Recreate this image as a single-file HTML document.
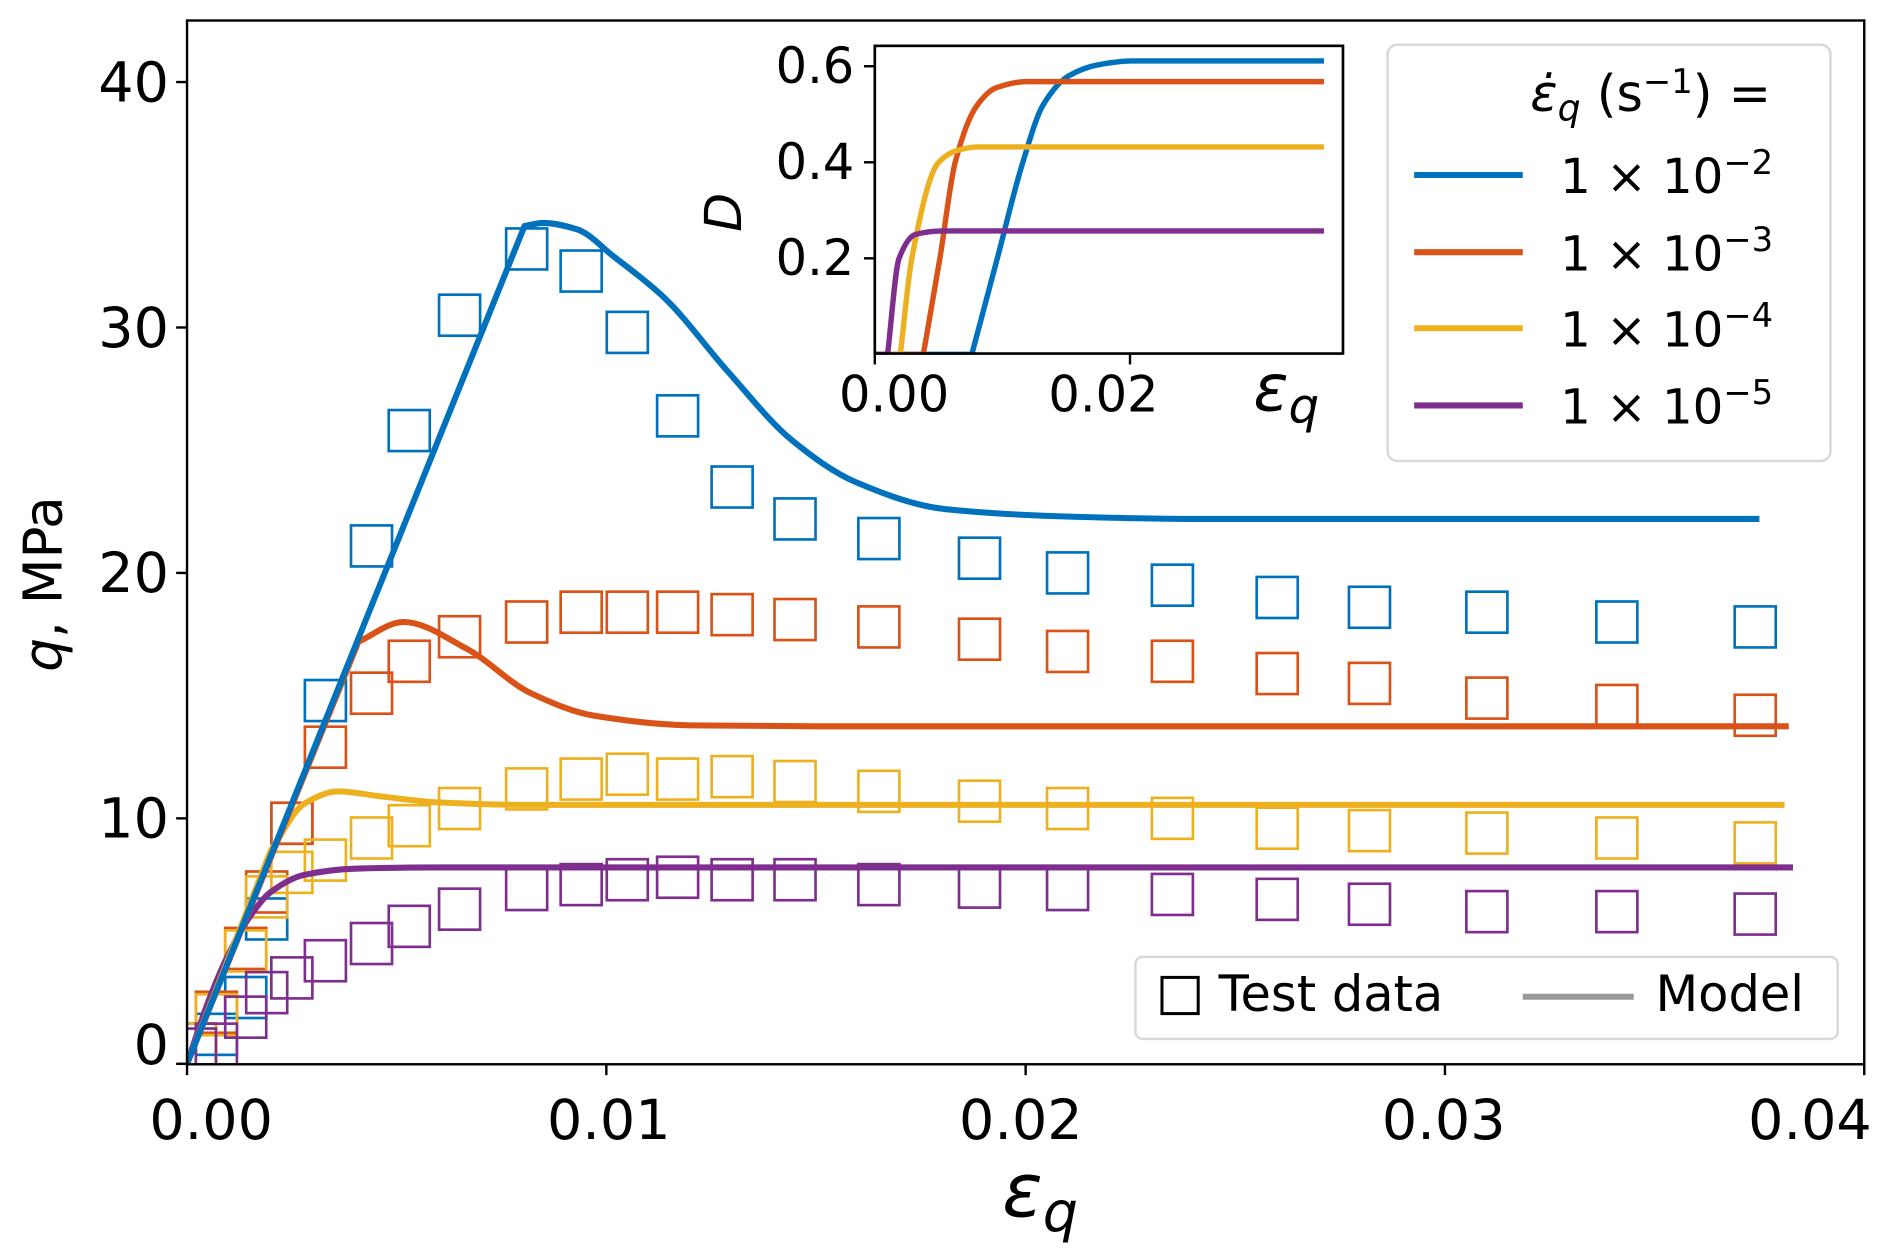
<!DOCTYPE html>
<html><head><meta charset="utf-8"><style>
html,body{margin:0;padding:0;background:#fff;}
svg{display:block;font-family:"DejaVu Sans","Liberation Sans",sans-serif;}
</style></head><body>
<svg id="chart" width="1892" height="1253" viewBox="0 0 1568 1038.4" preserveAspectRatio="none" xmlns="http://www.w3.org/2000/svg">
<defs>
<clipPath id="mainclip"><rect x="155" y="17" width="1390" height="865"/></clipPath>
<clipPath id="insetclip"><rect x="725" y="38" width="388" height="255"/></clipPath>
</defs>
<rect x="0" y="0" width="1568" height="1038.4" fill="#fff"/>
<g id="mainmarks" clip-path="url(#mainclip)"></g>
<rect x="155" y="17" width="1390" height="865" fill="none" stroke="#000" stroke-width="2"/>
<g id="mainaxes"></g>
<text x="862" y="1008" font-size="62" font-style="italic" text-anchor="middle">ε<tspan font-size="46" dy="12">q</tspan></text>
<text transform="translate(51,484) rotate(-90)" font-size="44" text-anchor="middle"><tspan font-style="italic">q</tspan>, MPa</text>

<rect x="725" y="38" width="388" height="255" fill="#fff"/>
<g id="insetmarks" clip-path="url(#insetclip)"></g>
<rect x="725" y="38" width="388" height="255" fill="none" stroke="#000" stroke-width="2.2"/>
<g id="insetaxes"></g>
<text transform="translate(614,176) rotate(-90)" font-size="42" font-style="italic" text-anchor="middle">D</text>
<text x="1066" y="340" font-size="54" font-style="italic" text-anchor="middle">ε<tspan font-size="40" dy="10">q</tspan></text>

<g>
<rect x="1150" y="37" width="367" height="345" rx="8" fill="#fff" fill-opacity="0.85" stroke="#d8d8d8" stroke-width="2"/>
<text x="1368" y="92" font-size="42" text-anchor="middle"><tspan font-style="italic">ε̇</tspan><tspan font-style="italic" font-size="30" dy="8">q</tspan><tspan dy="-8"> (s</tspan><tspan font-size="28" dy="-15">−1</tspan><tspan dy="15">) =</tspan></text>
<g id="legendentries"></g>
</g>

<g>
<rect x="941" y="793" width="582" height="68" rx="6" fill="#fff" fill-opacity="0.85" stroke="#d8d8d8" stroke-width="2"/>
<rect x="963" y="810" width="30" height="30" fill="none" stroke="#000" stroke-width="2.5"/>
<text x="1010" y="838" font-size="41">Test data</text>
<line x1="1262" y1="826" x2="1354" y2="826" stroke="#999" stroke-width="5"/>
<text x="1372" y="838" font-size="41">Model</text>
</g>
</svg>
<script>
const colors = ['#0072BD','#D95319','#EDB120','#7E2F8E'];
const seriesNames = ['rate-1e-2','rate-1e-3','rate-1e-4','rate-1e-5'];
const legendExponents = ['−2','−3','−4','−5'];
// test data
const epsTest = [0.0002,0.0007,0.0014,0.0019,0.0025,0.0033,0.0044,0.0053,0.0065,0.0081,0.0094,0.0105,0.0117,0.013,0.0145,0.0165,0.0189,0.021,0.0235,0.026,0.0282,0.031,0.0341,0.0374];
const qTestBlue = [0.8,1.2,2.7,5.9,9.8,14.8,21.1,25.8,30.5,33.2,32.3,29.8,26.4,23.5,22.2,21.4,20.6,20.0,19.5,19.0,18.6,18.4,18.0,17.8];
const qTestOrange = [0.8,2.1,4.7,7.0,9.8,12.9,15.1,16.4,17.4,18.0,18.4,18.4,18.4,18.3,18.1,17.8,17.3,16.8,16.4,15.9,15.5,14.9,14.6,14.2];
const qTestYellow = [0.8,2.0,4.6,6.8,7.8,8.3,9.2,9.7,10.4,11.2,11.6,11.8,11.6,11.7,11.5,11.1,10.7,10.4,10.0,9.6,9.5,9.4,9.2,9.0];
const qTestPurple = [0.6,0.8,1.9,2.9,3.5,4.2,4.9,5.6,6.3,7.1,7.3,7.5,7.6,7.5,7.5,7.3,7.2,7.1,6.9,6.7,6.5,6.2,6.2,6.1];
// model curves
const epsModelBlue = [0,0.00805,0.0085,0.0093,0.01017,0.01139,0.0129,0.01443,0.01595,0.01808,0.02113,0.0241,0.0375];
const qModelBlue = [0,34.14,34.26,34.0,32.9,31.2,28.2,25.4,23.7,22.6,22.29,22.2,22.2];
const epsModelOrange = [0,0.00409,0.00516,0.00668,0.0082,0.00972,0.012,0.015,0.0382];
const qModelOrange = [0,17.2,18.0,16.9,15.1,14.18,13.79,13.75,13.75];
const epsModelYellow = [0,0.002,0.0028,0.0036,0.0046,0.006,0.008,0.0381];
const qModelYellow = [0,8.7,10.6,11.1,10.9,10.65,10.55,10.55];
const epsModelPurple = [0,0.0005,0.001,0.0015,0.002,0.0028,0.004,0.006,0.0383];
const qModelPurple = [0,2.5,4.5,6.0,7.0,7.7,7.95,8.0,8.0];
// index of the corner where the straight elastic segment ends
const modelKinks = [1,1,1,0];
// inset damage curves
const epsDBlue = [0,0.0076,0.0096,0.0116,0.0132,0.0152,0.0175,0.0201,0.0352];
const dBlue = [0,0,0.2,0.4,0.52,0.58,0.603,0.611,0.611];
const epsDOrange = [0,0.0038,0.0051,0.0063,0.008,0.0095,0.0119,0.0352];
const dOrange = [0,0,0.2,0.4,0.518,0.555,0.568,0.568];
const epsDYellow = [0,0.002,0.0029,0.005,0.0065,0.008,0.0352];
const dYellow = [0,0,0.2,0.4,0.425,0.432,0.432];
const epsDPurple = [0,0.001,0.0019,0.0032,0.0053,0.0352];
const dPurple = [0,0,0.2,0.25,0.257,0.257];
const insetKinks = [1,1,1,1];
// ticks
const xTicks = [0,0.01,0.02,0.03,0.04];
const xTickLabels = ['0.00','0.01','0.02','0.03','0.04'];
const yTicks = [0,10,20,30,40];
const yTickLabels = ['0','10','20','30','40'];
const insetXTicks = [0,0.02];
const insetXTickLabels = ['0.00','0.02'];
const insetYTicks = [0.2,0.4,0.6];
const insetYTickLabels = ['0.2','0.4','0.6'];

const NS='http://www.w3.org/2000/svg';
const X = e => 155 + e*34750;
const Y = q => 881.6 - q*20.34;
const XI = e => 725 + e*10575;
const YI = d => 293.7 - d*398;
function mk(tag, parent){const el=document.createElementNS(NS,tag);parent.appendChild(el);return el;}
function monoSeg(pts){
  const n=pts.length;
  if(n<2) return '';
  const dx=[],m=[];
  for(let i=0;i<n-1;i++){dx[i]=pts[i+1][0]-pts[i][0];m[i]=(pts[i+1][1]-pts[i][1])/dx[i];}
  const t=new Array(n);
  t[0]=m[0];t[n-1]=m[n-2];
  for(let i=1;i<n-1;i++){
    if(m[i-1]*m[i]<=0) t[i]=0;
    else{const w1=2*dx[i]+dx[i-1],w2=dx[i]+2*dx[i-1];t[i]=(w1+w2)/(w1/m[i-1]+w2/m[i]);}
  }
  let d='';
  for(let i=0;i<n-1;i++){
    const h=dx[i]/3;
    d+=' C'+(pts[i][0]+h)+','+(pts[i][1]+t[i]*h)+' '+(pts[i+1][0]-h)+','+(pts[i+1][1]-t[i+1]*h)+' '+pts[i+1][0]+','+pts[i+1][1];
  }
  return d;
}
function pathWithKink(pts,k){
  let d='M'+pts[0][0]+','+pts[0][1];
  for(let i=1;i<=k;i++) d+=' L'+pts[i][0]+','+pts[i][1];
  return d+monoSeg(pts.slice(k));
}
const main=document.getElementById('mainmarks');
const testSets=[qTestBlue,qTestOrange,qTestYellow,qTestPurple];
const modelE=[epsModelBlue,epsModelOrange,epsModelYellow,epsModelPurple];
const modelQ=[qModelBlue,qModelOrange,qModelYellow,qModelPurple];
for(let s=0;s<4;s++){
  const g=mk('g',main);
  
  
  for(let i=0;i<epsTest.length;i++){
    const r=mk('rect',g);
    
    
    r.setAttribute('x',X(epsTest[i])-17);r.setAttribute('y',Y(testSets[s][i])-17);
    r.setAttribute('width',34);r.setAttribute('height',34);
    r.setAttribute('fill','none');r.setAttribute('stroke',colors[s]);r.setAttribute('stroke-width',2.2);
  }
}
for(let s=3;s>=0;s--){
  const p=mk('path',main);
  
  
  const pts=modelE[s].map((e,i)=>[X(e),Y(modelQ[s][i])]);
  p.setAttribute('d',pathWithKink(pts,modelKinks[s]));
  p.setAttribute('fill','none');p.setAttribute('stroke',colors[s]);p.setAttribute('stroke-width',5);
  p.setAttribute('stroke-linejoin','round');
}
const ax=document.getElementById('mainaxes');
const xLabelShift=[20,2,-4,-1,-45];
xTicks.forEach((v,i)=>{
  const l=mk('line',ax);
  
  
  l.setAttribute('x1',X(v));l.setAttribute('x2',X(v));l.setAttribute('y1',882);l.setAttribute('y2',891);l.setAttribute('stroke','#000');l.setAttribute('stroke-width',2);
  const t=mk('text',ax);
  
  
  t.setAttribute('x',X(v)+xLabelShift[i]);t.setAttribute('y',944);t.setAttribute('font-size',46);t.setAttribute('text-anchor','middle');t.textContent=xTickLabels[i];
});
yTicks.forEach((v,i)=>{
  const l=mk('line',ax);
  
  
  l.setAttribute('x1',146);l.setAttribute('x2',155);l.setAttribute('y1',Y(v));l.setAttribute('y2',Y(v));l.setAttribute('stroke','#000');l.setAttribute('stroke-width',2);
  const t=mk('text',ax);
  
  
  t.setAttribute('x',140);t.setAttribute('y',Y(v)+16-(v===0?16:0));t.setAttribute('font-size',46);t.setAttribute('text-anchor','end');t.textContent=yTickLabels[i];
});
const inset=document.getElementById('insetmarks');
const dE=[epsDBlue,epsDOrange,epsDYellow,epsDPurple];
const dV=[dBlue,dOrange,dYellow,dPurple];
for(let s=0;s<4;s++){
  const p=mk('path',inset);
  
  
  const pts=dE[s].map((e,i)=>[XI(e),YI(dV[s][i])]);
  p.setAttribute('d',pathWithKink(pts,insetKinks[s]));
  p.setAttribute('fill','none');p.setAttribute('stroke',colors[s]);p.setAttribute('stroke-width',4.5);
}
const iax=document.getElementById('insetaxes');
insetXTicks.forEach((v,i)=>{
  const l=mk('line',iax);
  
  
  l.setAttribute('x1',XI(v));l.setAttribute('x2',XI(v));l.setAttribute('y1',293);l.setAttribute('y2',302);l.setAttribute('stroke','#000');l.setAttribute('stroke-width',2);
  const t=mk('text',iax);
  
  
  t.setAttribute('x',XI(v)+(i===0?16:-22));t.setAttribute('y',341);t.setAttribute('font-size',41);t.setAttribute('text-anchor','middle');t.textContent=insetXTickLabels[i];
});
insetYTicks.forEach((v,i)=>{
  const l=mk('line',iax);
  
  
  l.setAttribute('x1',716);l.setAttribute('x2',725);l.setAttribute('y1',YI(v));l.setAttribute('y2',YI(v));l.setAttribute('stroke','#000');l.setAttribute('stroke-width',2);
  const t=mk('text',iax);
  
  
  t.setAttribute('x',708);t.setAttribute('y',YI(v)+14);t.setAttribute('font-size',41);t.setAttribute('text-anchor','end');t.textContent=insetYTickLabels[i];
});
const le=document.getElementById('legendentries');
const legendY=[145,209,272,336];
for(let s=0;s<4;s++){
  const l=mk('line',le);
  
  
  l.setAttribute('x1',1172);l.setAttribute('x2',1262);l.setAttribute('y1',legendY[s]);l.setAttribute('y2',legendY[s]);l.setAttribute('stroke',colors[s]);l.setAttribute('stroke-width',5);
  const t=mk('text',le);
  
  
  t.setAttribute('x',1293);t.setAttribute('y',legendY[s]+15);t.setAttribute('font-size',40);
  t.innerHTML='1 × 10<tspan font-size="28" dy="-16">'+legendExponents[s]+'</tspan>';
}
</script>
</body></html>
